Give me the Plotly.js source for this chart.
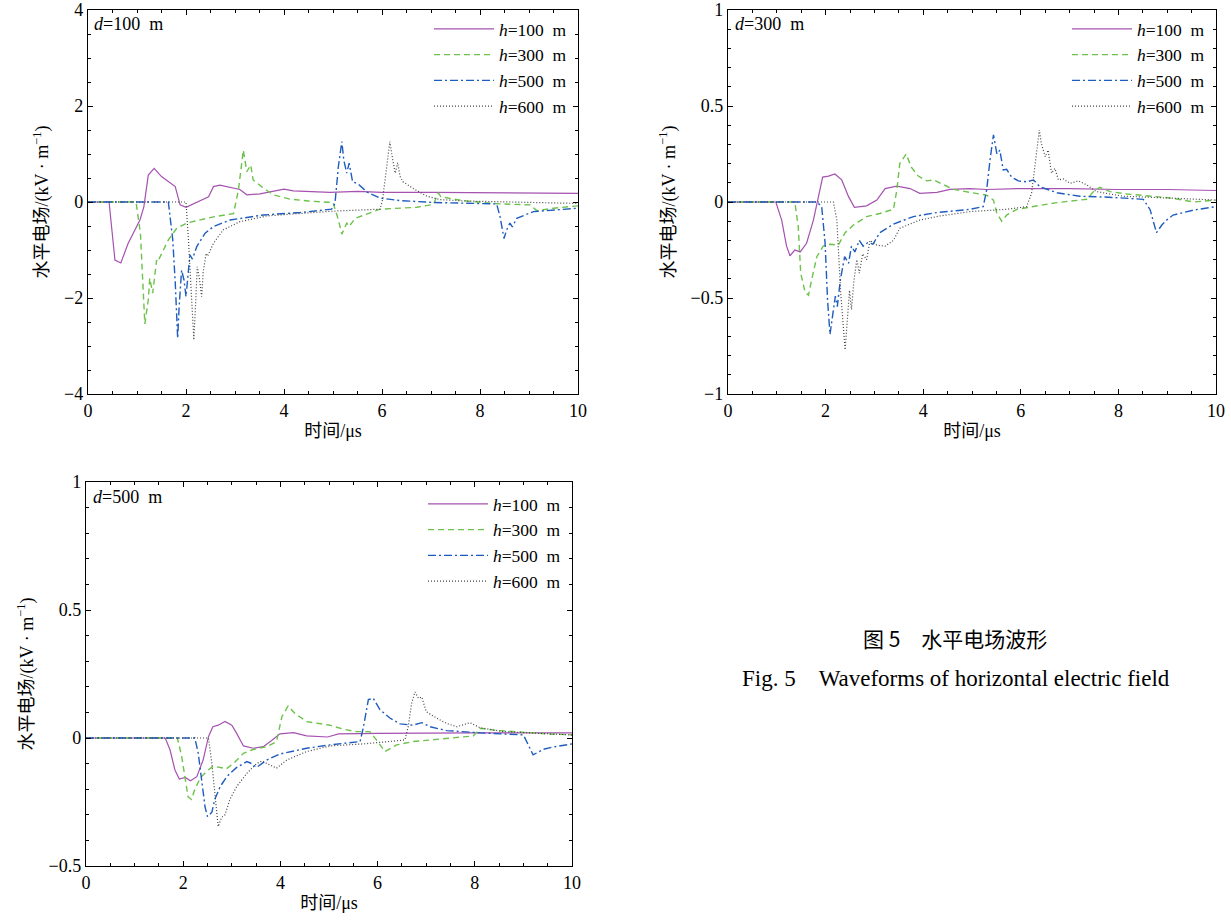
<!DOCTYPE html>
<html>
<head>
<meta charset="utf-8">
<script src="https://cdn.plot.ly/plotly-3.0.1.min.js"></script>
<style>body{margin:0;padding:0;background:#fff;} #chart{width:1231px;height:921px;}</style>
</head>
<body>
<div id="chart"></div>
<script>
// ---------- DATA ----------
const seriesNames = ["<i>h</i>=100\u00a0\u00a0m", "<i>h</i>=300\u00a0\u00a0m", "<i>h</i>=500\u00a0\u00a0m", "<i>h</i>=600\u00a0\u00a0m"];
const panelLabels = ["<i>d</i>=100\u00a0\u00a0m", "<i>d</i>=300\u00a0\u00a0m", "<i>d</i>=500\u00a0\u00a0m"];

// d = 100 m
const d100_h100_t = [0,0.43,0.55,0.67,0.82,0.93,1.06,1.14,1.23,1.35,1.50,1.78,1.88,2.0,2.22,2.46,2.56,2.69,3.10,3.24,3.51,3.88,4.0,4.19,4.5,4.94,5.5,6,7,8,9,10];
const d100_h100_v = [0,0,-1.21,-1.27,-0.86,-0.65,-0.375,-0.1,0.56,0.70,0.53,0.32,-0.06,-0.11,0.0,0.11,0.32,0.35,0.26,0.15,0.17,0.25,0.27,0.23,0.22,0.20,0.22,0.20,0.20,0.19,0.19,0.18];
const d100_h300_t = [0,0.98,1.07,1.13,1.16,1.23,1.26,1.32,1.40,1.42,1.50,1.64,1.81,2.01,2.56,2.97,3.07,3.17,3.24,3.32,3.37,3.54,3.78,4.12,4.5,5.0,5.11,5.18,5.28,5.33,5.45,5.96,6.71,7.05,7.15,7.2,7.46,7.73,8.41,9.02,9.16,9.5,10];
const d100_h300_v = [0,0,-0.65,-1.76,-2.54,-2.04,-1.59,-1.90,-1.21,-1.25,-1.07,-0.79,-0.55,-0.44,-0.31,-0.24,0.25,1.08,0.63,0.77,0.46,0.32,0.15,0.06,0.02,-0.01,-0.37,-0.67,-0.44,-0.51,-0.34,-0.15,-0.11,-0.05,0.19,0.11,0.06,0.02,-0.04,-0.06,-0.18,-0.13,-0.08];
const d100_h500_t = [0,1.64,1.73,1.78,1.83,1.86,1.91,1.96,2.0,2.03,2.08,2.13,2.22,2.39,2.56,2.90,3.58,4.33,4.97,5.04,5.11,5.18,5.22,5.28,5.33,5.40,5.51,5.69,5.96,6.37,7.05,8.34,8.41,8.49,8.54,8.61,8.66,8.75,9.09,10];
const d100_h500_v = [0,0,-0.79,-1.67,-2.84,-2.18,-1.42,-1.63,-1.97,-1.63,-1.10,-1.19,-0.93,-0.65,-0.51,-0.375,-0.27,-0.22,-0.15,-0.03,0.74,1.26,0.875,0.60,0.81,0.42,0.38,0.21,0.08,0.03,-0.01,-0.04,-0.31,-0.76,-0.59,-0.44,-0.52,-0.34,-0.20,-0.13];
const d100_h600_t = [0,2.0,2.05,2.12,2.16,2.20,2.23,2.27,2.32,2.35,2.41,2.44,2.56,2.76,3.10,3.65,4.33,5.0,5.96,6.01,6.08,6.16,6.22,6.27,6.32,6.37,6.43,6.64,6.91,7.18,7.73,8.75,10];
const d100_h600_v = [0,0,-0.79,-2.04,-2.875,-2.04,-1.35,-1.57,-1.97,-1.47,-1.07,-1.13,-0.86,-0.58,-0.41,-0.29,-0.24,-0.19,-0.15,0.04,0.60,1.26,0.875,0.60,0.82,0.53,0.42,0.28,0.125,0.05,0.02,0.0,-0.03];

// d = 300 m
const d300_h100_t = [0,0.98,1.10,1.20,1.27,1.37,1.48,1.61,1.75,1.85,1.94,2.06,2.19,2.33,2.47,2.59,2.84,3.05,3.22,3.46,3.73,3.93,4.28,4.55,4.96,5.3,6,7,8,9,10];
const d300_h100_v = [0,0,-0.094,-0.23,-0.28,-0.25,-0.26,-0.215,-0.094,0.028,0.13,0.135,0.146,0.115,0.028,-0.028,-0.02,0.01,0.07,0.083,0.07,0.045,0.05,0.066,0.07,0.065,0.07,0.07,0.065,0.065,0.06];
const d300_h300_t = [0,1.37,1.44,1.49,1.58,1.65,1.71,1.82,1.95,2.09,2.26,2.40,2.57,2.84,3.11,3.39,3.46,3.52,3.65,3.76,3.90,4.07,4.21,4.41,4.62,4.96,5.30,5.44,5.51,5.61,5.71,5.92,6.39,6.74,7.35,7.49,7.62,7.83,8.17,8.78,9.1,9.54,10];
const d300_h300_v = [0,0,-0.13,-0.37,-0.47,-0.485,-0.41,-0.285,-0.23,-0.22,-0.225,-0.16,-0.12,-0.076,-0.06,-0.038,0.0625,0.20,0.25,0.18,0.135,0.11,0.115,0.089,0.066,0.05,0.036,0.01,-0.06,-0.10,-0.068,-0.038,-0.016,-0.003,0.014,0.054,0.076,0.054,0.042,0.03,0.02,0.0,0.01];
const d300_h500_t = [0,1.82,1.92,1.99,2.04,2.09,2.15,2.20,2.24,2.30,2.35,2.39,2.47,2.53,2.60,2.69,2.77,2.87,2.97,3.11,3.39,3.80,4.28,4.96,5.23,5.30,5.37,5.44,5.51,5.57,5.64,5.71,5.81,5.95,6.12,6.26,6.39,6.74,7.21,7.8,8.51,8.65,8.78,8.89,8.99,9.12,9.54,10];
const d300_h500_v = [0,0,-0.024,-0.215,-0.51,-0.69,-0.58,-0.49,-0.545,-0.41,-0.34,-0.285,-0.32,-0.23,-0.26,-0.20,-0.23,-0.21,-0.22,-0.16,-0.115,-0.076,-0.055,-0.038,-0.024,0.0625,0.22,0.35,0.25,0.27,0.167,0.17,0.13,0.11,0.105,0.115,0.08,0.048,0.03,0.025,0.014,-0.04,-0.16,-0.12,-0.094,-0.068,-0.042,-0.024];
const d300_h600_t = [0,2.16,2.23,2.31,2.40,2.44,2.49,2.53,2.58,2.64,2.69,2.76,2.84,2.91,3.05,3.22,3.39,3.52,3.93,4.34,4.96,5.71,6.12,6.22,6.29,6.38,6.42,6.50,6.56,6.63,6.70,6.77,6.87,7.01,7.18,7.35,7.55,8.10,9.1,10];
const d300_h600_v = [0,0,-0.094,-0.475,-0.77,-0.65,-0.46,-0.56,-0.41,-0.30,-0.37,-0.27,-0.30,-0.20,-0.225,-0.23,-0.20,-0.137,-0.094,-0.073,-0.05,-0.038,-0.024,0.045,0.20,0.375,0.305,0.236,0.27,0.15,0.175,0.115,0.12,0.097,0.11,0.089,0.054,0.03,0.02,0.01];

// d = 500 m
const d500_h100_t = [0,1.63,1.73,1.83,1.92,2.04,2.15,2.28,2.41,2.52,2.61,2.72,2.86,3.0,3.10,3.24,3.44,3.65,3.82,3.99,4.27,4.54,4.97,5.2,6,7,8,9,10];
const d500_h100_v = [0,0,-0.047,-0.125,-0.16,-0.154,-0.167,-0.151,-0.086,0.005,0.044,0.05,0.065,0.05,0.018,-0.031,-0.04,-0.034,-0.01,0.016,0.021,0.008,0.004,0.016,0.018,0.02,0.02,0.02,0.02];
const d500_h300_t = [0,1.88,1.97,2.04,2.10,2.17,2.24,2.35,2.48,2.62,2.76,2.89,3.03,3.24,3.44,3.72,3.92,4.03,4.16,4.30,4.54,4.75,5.02,5.3,5.56,5.84,5.98,6.15,6.39,6.73,7.42,7.97,8.11,8.42,8.83,9.48,10];
const d500_h300_v = [0,0,-0.073,-0.164,-0.23,-0.24,-0.20,-0.157,-0.13,-0.11,-0.115,-0.12,-0.10,-0.06,-0.045,-0.034,-0.014,0.083,0.125,0.096,0.064,0.057,0.05,0.034,0.025,0.025,-0.008,-0.053,-0.027,-0.014,-0.003,0.008,0.038,0.03,0.025,0.016,0.012];
const d500_h500_t = [0,2.24,2.31,2.38,2.45,2.50,2.59,2.65,2.76,2.90,3.10,3.31,3.41,3.51,3.72,3.99,4.54,5.02,5.64,5.71,5.81,5.91,6.05,6.26,6.46,6.73,6.91,7.08,7.42,8.11,9.0,9.10,9.20,9.41,9.62,10];
const d500_h500_v = [0,0,-0.06,-0.164,-0.27,-0.307,-0.29,-0.24,-0.19,-0.15,-0.115,-0.092,-0.1,-0.115,-0.086,-0.0625,-0.04,-0.027,-0.014,0.044,0.15,0.155,0.11,0.077,0.055,0.05,0.06,0.044,0.029,0.02,0.012,-0.027,-0.066,-0.044,-0.035,-0.023];
const d500_h600_t = [0,2.52,2.59,2.65,2.72,2.79,2.86,2.96,3.10,3.31,3.51,3.62,3.79,3.92,4.13,4.54,5.02,5.71,6.56,6.63,6.70,6.77,6.84,6.91,7.0,7.22,7.42,7.63,7.90,8.11,8.59,9.27,10];
const d500_h600_v = [0,0,-0.1,-0.216,-0.346,-0.31,-0.30,-0.24,-0.19,-0.138,-0.1,-0.09,-0.105,-0.118,-0.086,-0.053,-0.031,-0.023,-0.008,0.044,0.135,0.18,0.155,0.16,0.103,0.077,0.057,0.044,0.06,0.04,0.025,0.018,0.012];

const xTitle = "时间/μs";
const yTitle = "水平电场/(kV · m<sup>−1</sup>)";
const captionCN = "图 5　水平电场波形";
const captionEN = "Fig. 5　Waveforms of horizontal electric field";

// ---------- STYLE ----------
const SERIF = "Liberation Serif, Noto Sans CJK SC, serif";
const styles = [
  {color: "#a552b0", dash: "solid", width: 1.2},
  {color: "#6cc24a", dash: "6px,4px", width: 1.4},
  {color: "#1f5cbf", dash: "8px,3px,2px,3px", width: 1.4},
  {color: "#444444", dash: "1px,2px", width: 1.2}
];

const panels = [
  {data: [[d100_h100_t,d100_h100_v],[d100_h300_t,d100_h300_v],[d100_h500_t,d100_h500_v],[d100_h600_t,d100_h600_v]], xa: "x", ya: "y", legend: "legend"},
  {data: [[d300_h100_t,d300_h100_v],[d300_h300_t,d300_h300_v],[d300_h500_t,d300_h500_v],[d300_h600_t,d300_h600_v]], xa: "x2", ya: "y2", legend: "legend2"},
  {data: [[d500_h100_t,d500_h100_v],[d500_h300_t,d500_h300_v],[d500_h500_t,d500_h500_v],[d500_h600_t,d500_h600_v]], xa: "x3", ya: "y3", legend: "legend3"}
];

const traces = [];
panels.forEach(p => {
  p.data.forEach((s, i) => {
    traces.push({
      type: "scatter", mode: "lines",
      x: s[0], y: s[1], name: seriesNames[i],
      xaxis: p.xa, yaxis: p.ya, legend: p.legend,
      line: {color: styles[i].color, dash: styles[i].dash, width: styles[i].width},
      hoverinfo: "skip"
    });
  });
});

const W = 1231, H = 921;
function xd(a, b) { return [a / W, b / W]; }
function yd(top, bottom) { return [1 - bottom / H, 1 - top / H]; }

function xaxis(dom, anchor) {
  return {
    domain: dom, anchor: anchor, range: [0, 10], dtick: 2, tick0: 0,
    ticks: "inside", ticklen: 5, tickwidth: 1, tickcolor: "#000",
    minor: {ticks: "inside", dtick: 0.5, ticklen: 3, tickcolor: "#000", tickwidth: 1},
    showline: true, linecolor: "#000", linewidth: 1.2, mirror: "ticks",
    showgrid: false, zeroline: false,
    tickfont: {family: SERIF, size: 18, color: "#000"},
    title: {text: xTitle, font: {family: SERIF, size: 18, color: "#000"}, standoff: 4}
  };
}
function yaxis(dom, anchor, range, dtick, minor) {
  return {
    domain: dom, anchor: anchor, range: range, dtick: dtick, tick0: 0,
    ticks: "inside", ticklen: 5, tickwidth: 1, tickcolor: "#000",
    minor: {ticks: "inside", dtick: minor, ticklen: 3, tickcolor: "#000", tickwidth: 1},
    showline: true, linecolor: "#000", linewidth: 1.2, mirror: "ticks",
    showgrid: false, zeroline: false,
    tickfont: {family: SERIF, size: 18, color: "#000"},
    title: {text: yTitle, font: {family: SERIF, size: 18, color: "#000"}, standoff: 10}
  };
}
function legend(xr, ytop) {
  return {
    x: xr / W, xanchor: "right", y: 1 - ytop / H, yanchor: "top",
    bgcolor: "rgba(0,0,0,0)", borderwidth: 0,
    font: {family: SERIF, size: 17.5, color: "#000"},
    itemwidth: 60, tracegroupgap: 0
  };
}

const layout = {
  width: W, height: H,
  margin: {l: 0, r: 0, t: 0, b: 0},
  paper_bgcolor: "#fff", plot_bgcolor: "#fff",
  showlegend: true,
  xaxis: xaxis(xd(88, 578), "y"),
  yaxis: yaxis(yd(10, 394), "x", [-4, 4], 2, 0.5),
  xaxis2: xaxis(xd(728, 1216), "y2"),
  yaxis2: yaxis(yd(10, 394), "x2", [-1, 1], 0.5, 0.1),
  xaxis3: xaxis(xd(86, 572), "y3"),
  yaxis3: yaxis(yd(482, 866), "x3", [-0.5, 1], 0.5, 0.1),
  legend: legend(572, 11),
  legend2: legend(1210, 11),
  legend3: legend(566, 486),
  annotations: [
    {text: panelLabels[0], xref: "paper", yref: "paper", x: 92 / W, y: 1 - 24 / H, xanchor: "left", yanchor: "middle", showarrow: false, font: {family: SERIF, size: 18, color: "#000"}},
    {text: panelLabels[1], xref: "paper", yref: "paper", x: 733 / W, y: 1 - 24 / H, xanchor: "left", yanchor: "middle", showarrow: false, font: {family: SERIF, size: 18, color: "#000"}},
    {text: panelLabels[2], xref: "paper", yref: "paper", x: 91 / W, y: 1 - 497 / H, xanchor: "left", yanchor: "middle", showarrow: false, font: {family: SERIF, size: 18, color: "#000"}},
    {text: captionCN, xref: "paper", yref: "paper", x: 955 / W, y: 1 - 638 / H, xanchor: "center", yanchor: "middle", showarrow: false, font: {family: "Noto Sans CJK SC, sans-serif", size: 21, color: "#000"}},
    {text: captionEN, xref: "paper", yref: "paper", x: 956 / W, y: 1 - 678 / H, xanchor: "center", yanchor: "middle", showarrow: false, font: {family: SERIF, size: 23, color: "#000"}}
  ]
};

Plotly.newPlot("chart", traces, layout, {staticPlot: true, displayModeBar: false});
</script>
</body>
</html>
